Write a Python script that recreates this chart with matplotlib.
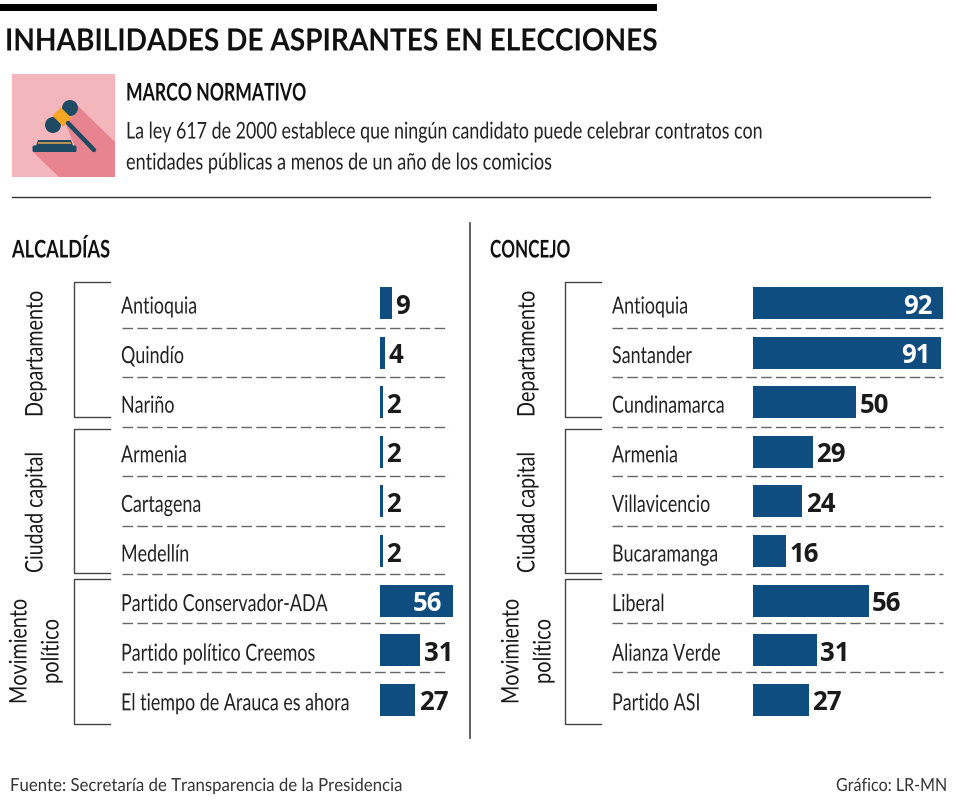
import matplotlib
matplotlib.use("Agg")
import matplotlib.pyplot as plt
from matplotlib.patches import Rectangle, Polygon, Circle, FancyBboxPatch
from matplotlib.patheffects import AbstractPathEffect
from matplotlib.transforms import Affine2D

plt.rcParams['font.family'] = ['Lato', 'Liberation Sans', 'DejaVu Sans']

W, H = 960, 800
BLUE = "#0f4c7f"
INK = "#1a1a1a"
NAVY = "#1f4a63"

alcaldias_labels = ["Antioquia", "Quindío", "Nariño", "Armenia", "Cartagena", "Medellín",
                    "Partido Conservador-ADA", "Partido político Creemos", "El tiempo de Arauca es ahora"]
alcaldias_values = [9, 4, 2, 2, 2, 2, 56, 31, 27]

concejo_labels = ["Antioquia", "Santander", "Cundinamarca", "Armenia", "Villavicencio", "Bucaramanga",
                  "Liberal", "Alianza Verde", "Partido ASI"]
concejo_values = [92, 91, 50, 29, 24, 16, 56, 31, 27]

fig = plt.figure(figsize=(W / 100, H / 100), dpi=100, facecolor="white")
renderer = fig.canvas.get_renderer()

# overlay in pixel coords for everything that isn't a bar
bg = fig.add_axes([0, 0, 1, 1])
bg.set_xlim(0, W)
bg.set_ylim(H, 0)
bg.axis("off")


class Condense(AbstractPathEffect):
    # no condensed font installed, so squeeze the glyphs sideways
    def __init__(self, sx):
        super().__init__()
        self.sx = sx

    def draw_path(self, renderer, gc, tpath, affine, rgbFace=None):
        renderer.draw_path(gc, tpath, Affine2D().scale(self.sx, 1) + affine, rgbFace)


def squeeze_for(s, width, size, weight="normal"):
    t = bg.text(0, 0, s, fontsize=size, fontweight=weight)
    w = t.get_window_extent(renderer).width
    t.remove()
    return width / w


def put(x, y, s, size, sx, weight="normal", color="#222222", rotation=0):
    t = bg.text(x, y, s, fontsize=size, fontweight=weight, color=color, rotation=rotation,
                rotation_mode="anchor", ha="left", va="center")
    t.set_path_effects([Condense(sx)])
    return t


def put_fit(x, y, s, width, size, weight="normal", color="#222222", rotation=0):
    return put(x, y, s, size, squeeze_for(s, width, size, weight), weight, color, rotation)


def px_axes(x0, x1, y0, y1):
    return fig.add_axes([x0 / W, 1 - y1 / H, (x1 - x0) / W, (y1 - y0) / H])


LABEL_SX = squeeze_for("El tiempo de Arauca es ahora", 228, 17)


def panel(labels, values, bar_x, scale, label_x, dash_x0, dash_x1, inside):
    ax = px_axes(bar_x, dash_x1 + 15, 278.2, 724.6)
    ax.patch.set_alpha(0)
    ax.axis("off")
    ax.set_xlim(0, (dash_x1 + 15 - bar_x) / scale)
    ax.set_ylim(8.5, -0.5)
    ax.barh(range(len(values)), values, height=0.645, color=BLUE)
    for i, (lab, v) in enumerate(zip(labels, values)):
        put(label_x, 303 + 49.6 * i + 4, lab, 17, LABEL_SX)
        if v in inside:
            ax.annotate(str(v), (v, i), xytext=(-7.5, -2.2), textcoords="offset points", color="white", fontsize=18.5,
                        fontweight="bold", family=["Open Sans"], va="center", ha="right")
        else:
            ax.annotate(str(v), (v, i), xytext=(2.5, -2.2), textcoords="offset points", color=INK, fontsize=18.5,
                        fontweight="bold", family=["Open Sans"], va="center", ha="left")
    for y in [328, 377, 427, 476, 526, 574, 623, 672]:
        bg.plot([dash_x0, dash_x1], [y, y], color="#666666", lw=1, dashes=(7.6, 3.1))


def brackets(x0, x1, text_x):
    for y0, y1 in [(282, 417), (429, 573), (579, 724)]:
        bg.plot([x1, x0, x0, x1], [y0, y0, y1, y1], color="#444444", lw=1)
    put_fit(text_x, 417, "Departamento", 126, 17.5, color=INK, rotation=90)
    put_fit(text_x, 573, "Ciudad capital", 121, 17.5, color=INK, rotation=90)
    put_fit(text_x - 16, 704, "Movimiento", 105, 17.5, color=INK, rotation=90)
    put_fit(text_x + 16, 684, "político", 65, 17.5, color=INK, rotation=90)


# header
bg.add_patch(Rectangle((0, 4), 657, 7, color="black", lw=0))
put_fit(5, 41.5, "INHABILIDADES DE ASPIRANTES EN ELECCIONES", 653, 22, weight="bold", color="#111111")

# gavel icon
bg.add_patch(Rectangle((12, 74), 103, 103, color="#f2b6bc", lw=0))
bg.add_patch(Polygon([(78, 106), (115, 142), (115, 177), (59, 177), (33, 152), (76, 150), (66, 124)],
                     closed=True, color="#e8848f", lw=0))
bg.add_patch(FancyBboxPatch((34, 147), 41, 3.5, boxstyle="round,pad=1.5", color=NAVY, lw=0))
bg.add_patch(Polygon([(36, 146), (38, 140), (71, 140), (73, 146)], closed=True, color=NAVY, lw=0))
bg.add_patch(Rectangle((38, 142), 33, 2, color="#b98f52", lw=0))
bg.plot([68, 94], [123, 150], color=NAVY, lw=3.2, solid_capstyle="round")
bg.add_patch(Circle((70, 108), 8, color=NAVY, lw=0))
bg.add_patch(Circle((53, 125), 8, color=NAVY, lw=0))
bg.add_patch(Polygon([(71.5, 118), (60.9, 107.5), (52.5, 115.9), (63.1, 126.4)], closed=True,
                     color="#f5a623", lw=0))

put_fit(126, 93, "MARCO NORMATIVO", 180, 17.5, weight="bold", color="#111111")
put_fit(126, 132, "La ley 617 de 2000 establece que ningún candidato puede celebrar contratos con", 637, 16.6)
put_fit(126, 163, "entidades públicas a menos de un año de los comicios", 426, 16.6)
bg.plot([12, 930], [197, 197], color="#333333", lw=1)

# panels
bg.plot([470, 470], [223, 738], color="#444444", lw=1.2)
put_fit(12, 250, "ALCALDÍAS", 98, 17.5, weight="bold", color="#111111")
put_fit(490, 250, "CONCEJO", 80, 17.5, weight="bold", color="#111111")

panel(alcaldias_labels, alcaldias_values, 380, 1.3, 121, 122, 449, {56})
panel(concejo_labels, concejo_values, 752.5, 2.075, 612, 612, 943, {92, 91})

brackets(74, 110, 36)
brackets(565, 601, 528)

put_fit(10, 786, "Fuente: Secretaría de Transparencia de la Presidencia", 392, 13, color="#333333")
put_fit(836, 786, "Gráfico: LR-MN", 111, 13, color="#333333")

fig.savefig("out.png", dpi=100)
